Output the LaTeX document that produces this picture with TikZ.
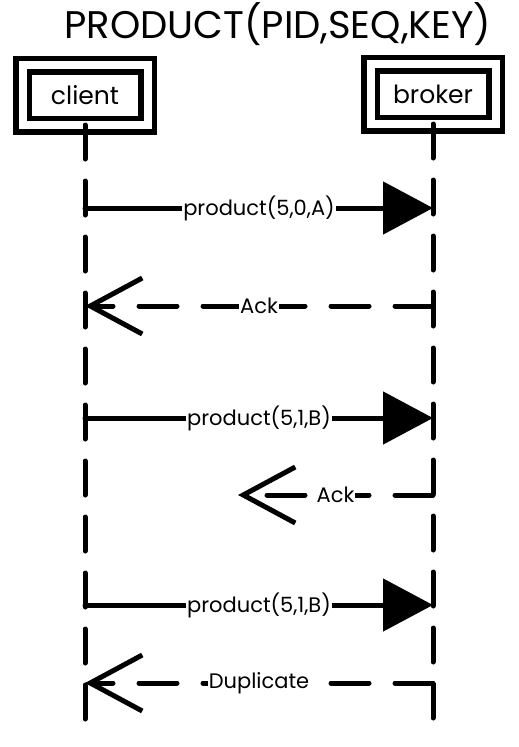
\documentclass[tikz,border=0pt]{standalone}
\usepackage{fontspec}
\setmainfont{Poppins}
\usetikzlibrary{arrows.meta,positioning}

\begin{document}
\begin{tikzpicture}[x=1pt,y=-1pt,
	actor/.style={draw,line width=5.5pt,double,double distance=8pt,minimum width=125pt,minimum height=60pt,inner sep=0pt,outer sep=0pt,font=\fontsize{25}{28}\selectfont},
	lifeline/.style={line width=5pt,line cap=round,dash pattern=on 34pt off 22pt},
	call/.style={line width=5pt,line cap=round,-{Triangle[length=50pt,width=52pt]}},
	answer/.style={line width=5pt,line cap=round,dash pattern=on 38pt off 26pt,-{Straight Barb[length=52pt,width=56pt]}},
	lbl/.style={fill=white,inner xsep=1pt,inner ysep=2pt,font=\fontsize{21}{24}\selectfont}]
	\useasboundingbox (0,0) rectangle (519,747);
	\node[font=\fontsize{38.5}{42}\selectfont] (title) at (278,24) {PRODUCT(PID,SEQ,KEY)};
	\node[actor] (client) at (85,95) {client};
	\node[actor] (broker) at (433,94) {broker};
	\draw[lifeline] (client.south) -- ++(0,604);
	\draw[lifeline] (broker.south) -- ++(0,604);
	% message rows
	\foreach \n/\y in {1/208,2/306,3/418,4/495,5/605,6/683}{
		\coordinate (c\n) at (client.center |- 0,\y);
		\coordinate (b\n) at (broker.center |- 0,\y);
	}
	\coordinate (lost) at (238,495);
	\draw[call] (c1) -- node[lbl] {product(5,0,A)} (b1);
	\draw[answer] (b2) -- node[lbl] {Ack} (c2);
	\draw[call] (c3) -- node[lbl] {product(5,1,B)} (b3);
	\draw[answer] (b4) -- node[lbl] {Ack} (lost);
	\draw[call] (c5) -- node[lbl] {product(5,1,B)} (b5);
	\draw[answer] (b6) -- node[lbl] {Duplicate} (c6);
\end{tikzpicture}
\end{document}
